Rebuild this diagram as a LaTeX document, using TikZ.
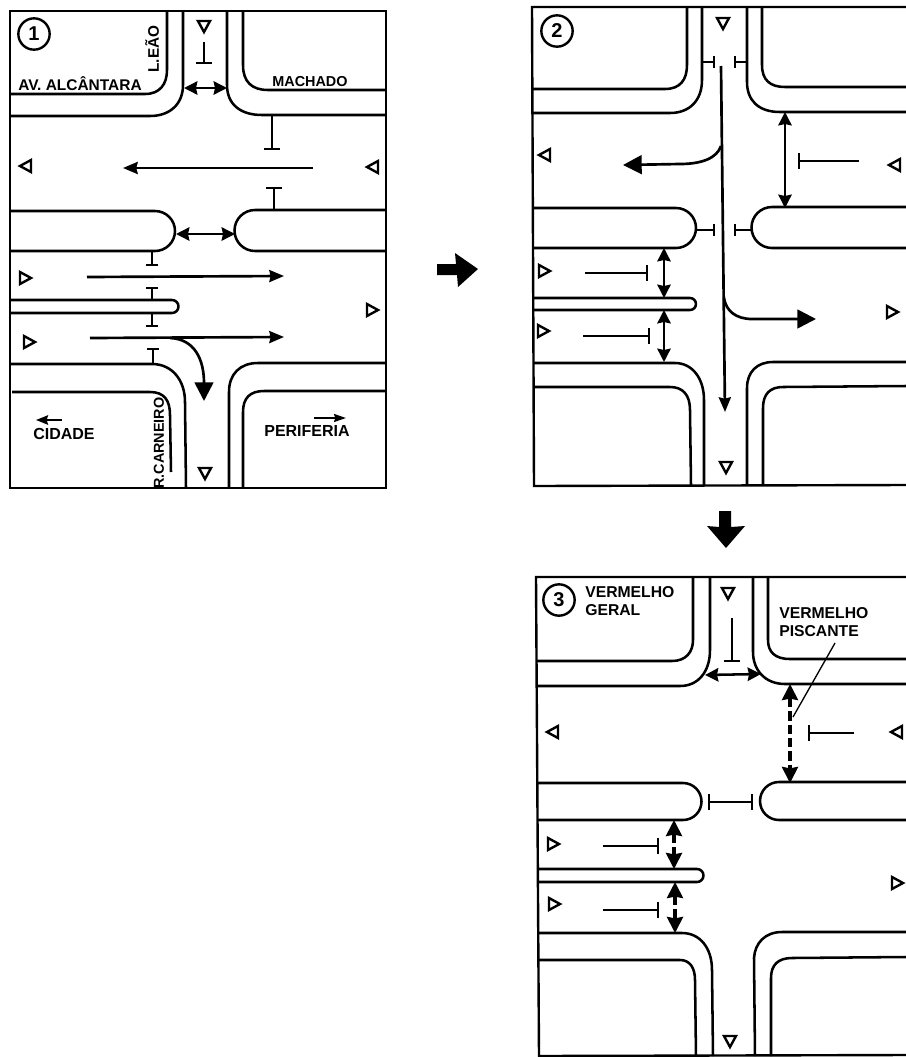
\documentclass[tikz,border=0pt]{standalone}
\usepackage{fontspec}
\setmainfont{Liberation Sans}
\usetikzlibrary{arrows.meta}
\tikzset{
  road/.style={line width=1.9pt,line join=round},
  frame/.style={line width=1.8pt},
  flow/.style={line width=2pt,-{Stealth[length=11pt,width=9pt,inset=1pt]}},
  bigflow/.style={line width=2pt,-{Stealth[length=14pt,width=14pt,inset=0pt]}},
  twoway/.style={line width=1.9pt,{Stealth[length=10pt,width=10pt,inset=1pt]}-{Stealth[length=10pt,width=10pt,inset=1pt]}},
  dashway/.style={line width=2.4pt,dash pattern=on 7pt off 3pt,{Stealth[length=12pt,width=12pt,inset=1pt]}-{Stealth[length=12pt,width=12pt,inset=1pt]}},
  stopline/.style={line width=1.6pt,-{Bar[width=12pt,line width=1.8pt]}},
  stopshort/.style={line width=1.6pt,-{Bar[width=9pt,line width=1.8pt]}},
  sigtri/.style={line width=1.8pt,line join=miter,fill=white},
  label/.style={font=\bfseries\fontsize{#1}{14}\selectfont,inner sep=0pt,text=black},
  tiny/.style={font=\bfseries\fontsize{11.8}{14}\selectfont,inner sep=0pt},
  num/.style={circle,draw,line width=1.8pt,minimum size=23.5pt,inner sep=0pt,font=\bfseries\fontsize{15}{15}\selectfont},
  block/.style={fill=black,draw=none},
}
\newcommand\tri[3]{\draw[sigtri,shift={(#1,#2)},rotate=#3] (-5,-6) -- (6,0) -- (-5,6) -- cycle;}
\begin{document}
\begin{tikzpicture}[x=0.75pt,y=-0.75pt]
\useasboundingbox[fill=white] (0,0) rectangle (906,1057);

% ---------- Panel 1 ----------
\draw[frame] (10,11) rectangle (386,488);
\draw[road] (10,94) -- (145,94) .. controls (160,94) and (167,84) .. (167,70) -- (167,11);
\draw[road] (10,116) -- (150,116) .. controls (170,116) and (183,104) .. (183,85) -- (183,11);
\draw[road] (227,11) -- (227,85) .. controls (227,104) and (240,115) .. (262,115) -- (386,115);
\draw[road] (243,11) -- (243,65) .. controls (243,82) and (252,90) .. (268,90) -- (386,90);
\draw[road] (10,211) -- (155,211) arc[start angle=-90,end angle=90,radius=20] -- (10,251);
\draw[road] (386,210) -- (255,210) arc[start angle=270,end angle=90,radius=20.5] -- (386,251);
\draw[road] (10,300) -- (172,300) arc[start angle=-90,end angle=90,radius=6.5] -- (10,313);
\draw[road] (10,364) -- (152,364) .. controls (172,364) and (185,380) .. (185,402) -- (186,488);
\draw[road] (12,392) -- (150,392) .. controls (164,392) and (170,400) .. (170,415) -- (171,472);
\draw[road] (229,488) -- (229,392) .. controls (229,374) and (240,363) .. (258,363) -- (386,363);
\draw[road] (243,488) -- (243,412) .. controls (243,398) and (250,391) .. (264,391) -- (386,391);

\node[num] (n1) at (34,34) {1};
\node[label=11.5,rotate=90] (leao) at (152,49) {L.EÃO};
\node[label=11.6] (alc) at (80,84) {AV. ALCÂNTARA};
\node[label=10.8] (mach) at (310,82) {MACHADO};
\node[label=12] (cid) at (64,434) {CIDADE};
\node[label=12] (per) at (307,431) {PERIFERIA};
\node[label=10.8,rotate=90] (carn) at (159,443) {R.CARNEIRO};

\tri{204}{26}{-90}
\tri{26}{166}{180}
\tri{373}{167}{180}
\tri{25}{278}{0}
\tri{372}{310}{0}
\tri{29}{342}{0}
\tri{205}{473}{-90}

\draw[stopline] (204,42) -- (204,64);
\draw[stopline] (272,116) -- (272,150);
\draw[stopline] (274,210) -- (274,187);
\draw[stopshort] (152,251) -- (152,266);
\draw[stopshort] (152,300) -- (152,287);
\draw[stopshort] (152,313) -- (152,327);
\draw[stopshort] (153,364) -- (153,348);

\draw[twoway] (184,88) -- (227,88);
\draw[twoway] (176,234) -- (235,234);
\draw[flow] (313,168) -- (123,168);
\draw[flow] (87,277) -- (284,276);
\draw[flow] (90,338) -- (284,337);
\draw[bigflow] (170,338) .. controls (195,339) and (204,360) .. (204,401);
\draw[line width=1.6pt,-{Stealth[length=9pt,width=7pt,inset=1pt]}] (62,420) -- (36,420);
\draw[line width=1.4pt,-{Stealth[length=9pt,width=6pt,inset=1pt]}] (314,418) -- (346,418);

% ---------- Panel 2 ----------
\draw[frame] (906,7) -- (532,7) -- (534,486) -- (906,485);
\draw[road] (531,89) -- (665,89) .. controls (680,89) and (687,80) .. (687,65) -- (687,7);
\draw[road] (531,113) -- (670,113) .. controls (690,113) and (702,100) .. (702,80) -- (702,7);
\draw[road] (747,7) -- (747,82) .. controls (747,100) and (758,112) .. (780,112) -- (906,112);
\draw[road] (762,7) -- (762,65) .. controls (762,80) and (770,87) .. (785,87) -- (906,87);
\draw[road] (532,208) -- (676,208) arc[start angle=-90,end angle=90,radius=20] -- (532,248);
\draw[road] (906,207) -- (772,207) arc[start angle=270,end angle=90,radius=20.5] -- (906,248);
\draw[road] (533,298) -- (690,298) arc[start angle=-90,end angle=90,radius=6] -- (533,310);
\draw[road] (534,363) -- (675,363) .. controls (692,363) and (704,378) .. (704,400) -- (704,485);
\draw[road] (534,387) -- (670,387) .. controls (683,387) and (690,395) .. (690,410) -- (691,485);
\draw[road] (747,485) -- (747,388) .. controls (747,372) and (757,362) .. (773,362) -- (906,362);
\draw[road] (763,485) -- (763,408) .. controls (763,394) and (770,387) .. (783,387) -- (906,386);

\node[num] (n2) at (557,31) {2};

\tri{723}{23}{-90}
\tri{545}{155}{180}
\tri{895}{165}{180}
\tri{544}{271}{0}
\tri{892}{312}{0}
\tri{543}{331}{0}
\tri{726}{467}{-90}

\draw[stopshort] (702,62) -- (715,62);
\draw[stopshort] (747,62) -- (734,62);
\draw[stopshort] (696,230) -- (715,230);
\draw[stopshort] (752,230) -- (734,230);
\draw[stopline] (859,161) -- (798,161);
\draw[stopline] (585,273) -- (648,273);
\draw[stopline] (583,336) -- (650,336);

\draw[flow] (721,66) -- (725,412);
\draw[bigflow] (721,146) .. controls (717,158) and (702,164) .. (680,164) -- (623,165);
\draw[bigflow] (724,298) .. controls (726,311) and (736,319) .. (752,319) -- (816,319);
\draw[twoway] (785,112) -- (785,208);
\draw[twoway] (664,248) -- (664,298);
\draw[twoway] (664,310) -- (664,362);

% ---------- Panel 3 ----------
\draw[frame] (906,577) -- (536,577) -- (539,1056) -- (906,1055);
\draw[road] (536,661) -- (672,661) .. controls (686,661) and (693,652) .. (693,640) -- (693,577);
\draw[road] (536,686) -- (680,686) .. controls (698,686) and (710,672) .. (710,650) -- (710,577);
\draw[road] (753,577) -- (753,652) .. controls (753,670) and (765,684) .. (785,684) -- (906,684);
\draw[road] (768,577) -- (768,640) .. controls (768,652) and (775,659) .. (790,659) -- (906,659);
\draw[road] (537,783) -- (683,783) arc[start angle=-90,end angle=90,radius=18.5] -- (537,820);
\draw[road] (906,782) -- (779,782) arc[start angle=270,end angle=90,radius=19] -- (906,820);
\draw[road] (538,869) -- (697,869) arc[start angle=-90,end angle=90,radius=6.5] -- (538,882);
\draw[road] (538,933) -- (682,933) .. controls (700,933) and (712,948) .. (712,970) -- (713,1056);
\draw[road] (539,960) -- (680,960) .. controls (690,960) and (695,968) .. (695,980) -- (696,1056);
\draw[road] (755,1056) -- (754,958) .. controls (755,943) and (765,932) .. (782,932) -- (906,932);
\draw[road] (771,1056) -- (771,978) .. controls (771,965) and (778,958) .. (792,958) -- (906,957);

\node[num] (n3) at (559,600) {3};
\node[tiny,anchor=west,align=left] (vg) at (585,601) {VERMELHO\\GERAL};
\node[tiny,anchor=west,align=left] (vp) at (779,622) {VERMELHO\\PISCANTE};

\tri{728}{593}{-90}
\tri{553}{732}{180}
\tri{897}{732}{180}
\tri{553}{844}{0}
\tri{897}{883}{0}
\tri{554}{904}{0}
\tri{730}{1041}{-90}

\draw[stopline] (732,618) -- (732,662);
\draw[stopline] (854,733) -- (808,733);
\draw[line width=1.6pt,{Bar[width=12pt,line width=1.8pt]}-{Bar[width=12pt,line width=1.8pt]}] (708,802) -- (753,802);
\draw[stopline] (603,846) -- (659,846);
\draw[stopline] (603,910) -- (659,910);

\coordinate (pisc) at (793,717);
\coordinate (piscb) at (835,643);
\draw[line width=1pt] (piscb) -- (pisc);
\draw[twoway] (705,675) -- (761,674);
\draw[dashway] (790,684) -- (790,783);
\draw[dashway] (674,820) -- (674,869);
\draw[dashway] (675,882) -- (675,933);

% ---------- Block arrows ----------
\fill[block] (437,264) -- (456,264) -- (455,253) -- (478,269) -- (458,287) -- (457,275) -- (437,275) -- cycle;
\fill[block] (719,511) -- (731,511) -- (731,527) -- (745,526) -- (726,548) -- (707,526) -- (719,527) -- cycle;
\end{tikzpicture}
\end{document}
